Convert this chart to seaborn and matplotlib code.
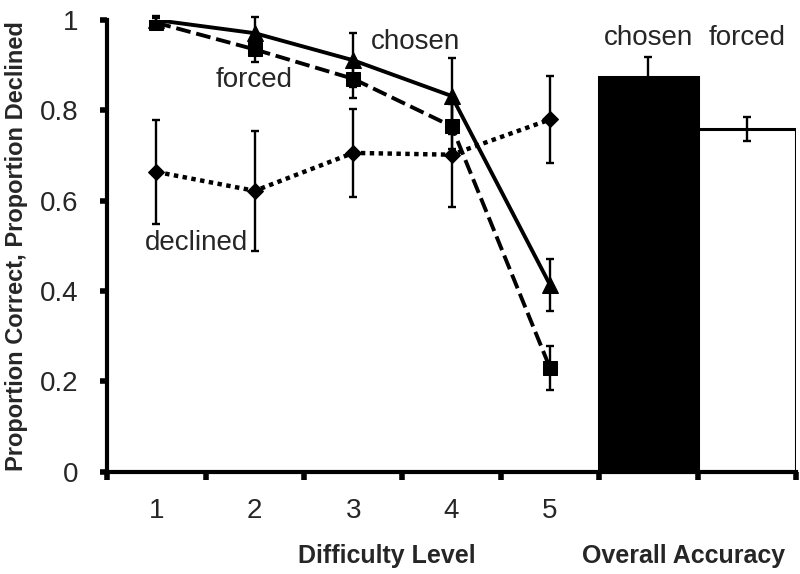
# Accuracy by difficulty level (chosen / forced / declined) + overall accuracy bars

import numpy as np
import pandas as pd
import matplotlib
matplotlib.use("Agg")
import matplotlib.pyplot as plt
import seaborn as sns

# -------------------------------------------------------
# DATA
# -------------------------------------------------------
levels = ["1", "2", "3", "4", "5"]

chosen_acc = [1.000, 0.971, 0.911, 0.832, 0.414]
chosen_err = [0.010, 0.035, 0.060, 0.085, 0.058]

forced_acc = [0.994, 0.935, 0.870, 0.765, 0.230]
forced_err = [0.010, 0.027, 0.043, 0.050, 0.049]

declined_prop = [0.664, 0.622, 0.706, 0.702, 0.780]
declined_err = [0.115, 0.133, 0.097, 0.116, 0.097]

overall_labels = ["chosen", "forced"]
overall_acc = [0.874, 0.759]
overall_err = [0.044, 0.026]

# -------------------------------------------------------
# STYLE
# -------------------------------------------------------
sns.set_style("white")
plt.rcParams["font.family"] = ["Liberation Sans", "DejaVu Sans"]

fig = plt.figure(figsize=(8, 5.74), dpi=100)
ax = fig.add_axes([0.134, 0.178, 0.861, 0.787])

# line positions 0..4, bars sit in the two slots after them
x_lines = np.arange(len(levels))
x_bars = len(levels) + np.arange(len(overall_labels))

# -------------------------------------------------------
# LINES
# -------------------------------------------------------
sns.lineplot(x=x_lines, y=chosen_acc, ax=ax, color="black", linewidth=2.8,
             marker="^", markersize=11, markeredgecolor="black",
             markerfacecolor="black", zorder=4)
sns.lineplot(x=x_lines, y=forced_acc, ax=ax, color="black", linewidth=2.8,
             linestyle=(0, (3.8, 1.5)), marker="s", markersize=10,
             markeredgecolor="black", markerfacecolor="black", zorder=4)
sns.lineplot(x=x_lines, y=declined_prop, ax=ax, color="black", linewidth=3.2,
             linestyle=(0, (1.0, 1.0)), marker="D", markersize=8.5,
             markeredgecolor="black", markerfacecolor="black", zorder=3)

# error bars for each series
for vals, errs in [(chosen_acc, chosen_err), (forced_acc, forced_err),
                   (declined_prop, declined_err)]:
    ax.errorbar(x_lines, vals, yerr=errs, fmt="none", ecolor="black",
                elinewidth=1.7, capsize=3, capthick=1.7, zorder=2, clip_on=False)

# -------------------------------------------------------
# BARS (overall accuracy)
# -------------------------------------------------------
bars_df = pd.DataFrame({"pos": x_bars, "acc": overall_acc, "cond": overall_labels})
sns.barplot(data=bars_df, x="pos", y="acc", hue="cond",
            palette={"chosen": "black", "forced": "white"},
            native_scale=True, width=1.0, dodge=False, errorbar=None,
            edgecolor="black", linewidth=2.2, legend=False, ax=ax, zorder=2)
ax.errorbar(x_bars, overall_acc, yerr=overall_err, fmt="none", ecolor="black",
            elinewidth=1.7, capsize=3, capthick=1.7, zorder=3)

# -------------------------------------------------------
# TEXT LABELS
# -------------------------------------------------------
ax.text(2.63, 0.951, "chosen", fontsize=20, ha="center", va="center")
ax.text(0.99, 0.867, "forced", fontsize=20, ha="center", va="center")
ax.text(0.41, 0.507, "declined", fontsize=20, ha="center", va="center")
for xb, lab in zip(x_bars, overall_labels):
    ax.text(xb, 0.96, lab, fontsize=20, ha="center", va="center")

ax.text(2.34, -0.186, "Difficulty Level", fontsize=18, fontweight="bold",
        ha="center", va="center", clip_on=False)
ax.text(5.36, -0.186, "Overall Accuracy", fontsize=18, fontweight="bold",
        ha="center", va="center", clip_on=False)
ax.set_ylabel("Proportion Correct, Proportion Declined", fontsize=17,
              fontweight="bold", labelpad=8)
ax.set_xlabel("")

# -------------------------------------------------------
# AXES
# -------------------------------------------------------
ax.set_xlim(-0.5, len(levels) + len(overall_labels) - 0.5)
ax.set_ylim(0, 1)
ax.set_xticks(x_lines)
ax.set_xticklabels(levels, fontsize=20)
ax.set_xticks(np.arange(-0.5, len(levels) + len(overall_labels)), minor=True)
ax.tick_params(axis="x", which="major", length=0, pad=19)
ax.tick_params(axis="x", which="minor", bottom=True, length=6, width=4,
               direction="out", color="black")
ax.set_yticks([0, 0.2, 0.4, 0.6, 0.8, 1])
ax.set_yticklabels(["0", "0.2", "0.4", "0.6", "0.8", "1"], fontsize=20)
ax.tick_params(axis="y", length=5, width=4, direction="out", left=True,
               pad=16, color="black")

sns.despine(ax=ax)
for side in ["left", "bottom"]:
    ax.spines[side].set_linewidth(3.0)
    ax.spines[side].set_color("black")

fig.savefig("out.png", dpi=100)
